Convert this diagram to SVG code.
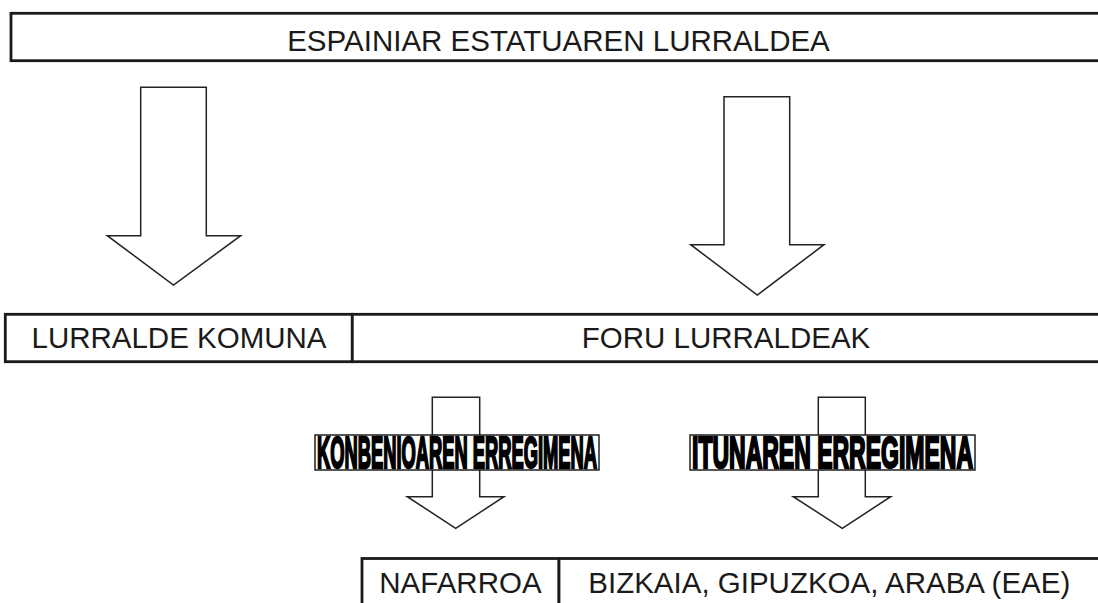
<svg xmlns="http://www.w3.org/2000/svg" width="1098" height="603" viewBox="0 0 1098 603">
<style>
.box{fill:#fff;stroke:#1a1a1a;stroke-width:2.8}
.arrow{fill:#fff;stroke:#222;stroke-width:1.5;stroke-linejoin:miter}
.t{font-family:"Liberation Sans",Arial,sans-serif;font-size:29.5px;fill:#1a1a1a}
.lblbox{fill:#fff;stroke:#111;stroke-width:1.4}
.lbl{font-family:"Liberation Sans",Arial,sans-serif;font-weight:bold;font-size:44.5px;fill:#000;stroke:#000;stroke-width:2.6;stroke-linejoin:miter}
</style>
<rect width="1098" height="603" fill="#fff"/>
<g id="node-espainiar">
<rect class="box" x="11" y="13.3" width="1100" height="47.4"/>
<text class="t" x="558.5" y="50.5" text-anchor="middle">ESPAINIAR ESTATUAREN LURRALDEA</text>
</g>
<g id="connectors">
<polygon class="arrow" points="140.7,87.3 206.3,87.3 206.3,235.7 240.7,235.7 173.5,285 107.3,235.7 140.7,235.7"/>
<polygon class="arrow" points="724,96.7 789.7,96.7 789.7,244.7 824,244.7 757.3,295 690.7,244.7 724,244.7"/>
<polygon class="arrow" points="432.3,397.3 479.7,397.3 479.7,496.7 504,496.7 455.7,528.3 407.3,496.7 432.3,496.7"/>
<polygon class="arrow" points="818.3,397.3 865.3,397.3 865.3,496.7 890.7,496.7 842.3,528.3 793.3,496.7 818.3,496.7"/>
</g>
<g id="node-lurralde-komuna">
<rect class="box" x="5.3" y="314.3" width="347" height="47.4"/>
<text class="t" x="179" y="347.7" text-anchor="middle">LURRALDE KOMUNA</text>
</g>
<g id="node-foru-lurraldeak">
<rect class="box" x="352.3" y="314.3" width="760" height="47.4"/>
<text class="t" x="726" y="347.7" text-anchor="middle">FORU LURRALDEAK</text>
</g>
<g id="label-konbenioa">
<rect class="lblbox" x="315" y="435" width="284" height="35"/>
<text class="lbl" x="317" y="468.2" textLength="280" lengthAdjust="spacingAndGlyphs">KONBENIOAREN ERREGIMENA</text>
</g>
<g id="label-ituna">
<rect class="lblbox" x="690" y="435" width="285" height="35"/>
<text class="lbl" x="692" y="468.2" textLength="281" lengthAdjust="spacingAndGlyphs">ITUNAREN ERREGIMENA</text>
</g>
<g id="node-nafarroa">
<rect class="box" x="362" y="558.5" width="197" height="80"/>
<text class="t" x="379.3" y="593.3">NAFARROA</text>
</g>
<g id="node-eae">
<rect class="box" x="559" y="558.5" width="600" height="80"/>
<text class="t" x="588.3" y="593.3">BIZKAIA, GIPUZKOA, ARABA (EAE)</text>
</g>
</svg>
